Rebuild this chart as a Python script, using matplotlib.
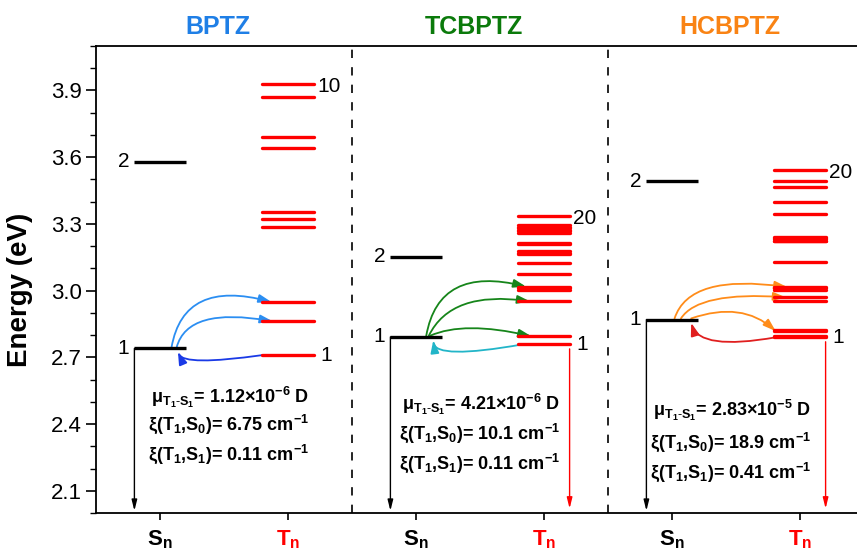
import matplotlib
matplotlib.use('Agg')
import matplotlib.pyplot as plt
import matplotlib.transforms as mtransforms
from matplotlib.patches import FancyArrowPatch
from matplotlib.ticker import MultipleLocator, FormatStrFormatter

plt.rcParams['font.family'] = 'Liberation Sans'
plt.rcParams['mathtext.fontset'] = 'custom'
plt.rcParams['mathtext.rm'] = 'Liberation Sans'
plt.rcParams['mathtext.bf'] = 'Liberation Sans:bold'
plt.rcParams['mathtext.it'] = 'Liberation Sans:italic'

molecules = ['BPTZ', 'TCBPTZ', 'HCBPTZ']
title_colors = ['#1f7fe6', '#0b7a0b', '#f98314']

# excited state energies (eV)
s_bptz = [2.740, 3.579]
t_bptz = [2.710, 2.862, 2.949, 3.286, 3.321, 3.353, 3.640, 3.689, 3.872, 3.927]
s_tcbptz = [2.792, 3.152]
t_tcbptz = [2.758, 2.795, 2.952, 3.003, 3.010, 3.018, 3.073, 3.126, 3.164, 3.170,
            3.176, 3.209, 3.212, 3.261, 3.267, 3.274, 3.280, 3.287, 3.293, 3.335]
s_hcbptz = [2.870, 3.492]
t_hcbptz = [2.790, 2.794, 2.818, 2.822, 2.952, 2.970, 3.004, 3.010, 3.016, 3.129,
            3.221, 3.225, 3.230, 3.235, 3.240, 3.346, 3.398, 3.465, 3.494, 3.542]

# transition dipole and SOC values
mu_val = ['1.12', '4.21', '2.83']
mu_exp = ['-6', '-6', '-5']
soc_s0 = ['6.75', '10.1', '18.9']
soc_s1 = ['0.11', '0.11', '0.41']
t1_decay = [False, True, True]

# ISC arrows: (target triplet index, x on S1, x at Tn, angleA, angleB)
fwd_arrows = [
    [(2, 0.59, 1.37, 80, -15), (1, 0.63, 1.38, 75, -10)],
    [(5, 0.58, 1.36, 80, -14), (2, 0.60, 1.39, 64, -8), (1, 0.61, 1.40, 24, -13)],
    [(8, 0.52, 1.40, 72, -8), (5, 0.57, 1.39, 57, -4), (2, 0.65, 1.31, 19, -42)],
]
fwd_colors = ['#2b8ef2', '#16851a', '#ff8c1a']
# RISC arrows: (x at T1, x on S1, angleA, angleB)
back_arrows = [(1.30, 0.64, 188, 113), (1.33, 0.635, 190, 97), (1.31, 0.65, 190, 107)]
back_colors = ['#1a3ae6', '#22b5c8', '#e01f1f']

s_sets = [s_bptz, s_tcbptz, s_hcbptz]
t_sets = [t_bptz, t_tcbptz, t_hcbptz]

fig = plt.figure(figsize=(8.57, 5.54), dpi=100)
ax = fig.add_axes([96/857, 41/554, 768/857, 467/554])
ax.set_xlim(0, 6)
ax.set_ylim(2.0, 4.1)

head = '-|>,head_length=0.75,head_width=0.25'
head_v = '-|>,head_length=0.8,head_width=0.2'
trans_title = mtransforms.blended_transform_factory(ax.transData, ax.transAxes)

for i in range(3):
    x0 = 2 * i
    s, t = s_sets[i], t_sets[i]

    # energy levels
    for e in s:
        ax.plot([x0 + 0.30, x0 + 0.70], [e, e], color='black', lw=2.4, solid_capstyle='butt')
    for e in t:
        ax.plot([x0 + 1.30, x0 + 1.70], [e, e], color='red', lw=2.4, solid_capstyle='round')

    ax.text(x0 + 0.26, s[0], '1', fontsize=15, ha='right', va='center')
    ax.text(x0 + 0.26, s[1], '2', fontsize=15, ha='right', va='center')
    ax.text(x0 + 1.75, t[0], '1', fontsize=15, ha='left', va='center')
    ax.text(x0 + 1.73, t[-1] - 0.01, str(len(t)), fontsize=15, ha='left', va='center')

    # ISC arrows S1 -> Tn
    for idx, xa, xb, aa, ab in fwd_arrows[i]:
        ax.add_patch(FancyArrowPatch((x0 + xa, s[0] + 0.005), (x0 + xb, t[idx]),
                                     connectionstyle=f'angle3,angleA={aa},angleB={ab}',
                                     arrowstyle=head, mutation_scale=10, lw=1.3,
                                     color=fwd_colors[i], shrinkA=0, shrinkB=0))
    # RISC arrow T1 -> S1
    xa, xb, aa, ab = back_arrows[i]
    ax.add_patch(FancyArrowPatch((x0 + xa, t[0]), (x0 + xb, s[0] - 0.015),
                                 connectionstyle=f'angle3,angleA={aa},angleB={ab}',
                                 arrowstyle=head, mutation_scale=10, lw=1.3,
                                 color=back_colors[i], shrinkA=0, shrinkB=0))

    # radiative decay
    ax.add_patch(FancyArrowPatch((x0 + 0.30, s[0]), (x0 + 0.30, 2.01),
                                 arrowstyle=head_v, mutation_scale=8, lw=1.0,
                                 color='black', shrinkA=0, shrinkB=0))
    if t1_decay[i]:
        ax.add_patch(FancyArrowPatch((x0 + 1.70, t[0] - 0.02), (x0 + 1.70, 2.02),
                                     arrowstyle=head_v, mutation_scale=8, lw=1.0,
                                     color='red', shrinkA=0, shrinkB=0))

    # annotations
    ty = [2.52 - 0.03 * i, 2.40 - 0.04 * i, 2.265 - 0.04 * i]
    tx = x0 + 0.43 - 0.04 * i
    ax.text(tx, ty[0],
            r'μ$_{\mathbf{T_1\text{-}S_1}}$= ' + mu_val[i] + r'×10$^{\mathbf{' + mu_exp[i] + r'}}$ D',
            fontsize=13, fontweight='bold', ha='left', va='center')
    ax.text(tx - 0.02, ty[1],
            r'ξ(T$_{\mathbf{1}}$,S$_{\mathbf{0}}$)= ' + soc_s0[i] + r' cm$^{\mathbf{-1}}$',
            fontsize=13, fontweight='bold', ha='left', va='center')
    ax.text(tx - 0.02, ty[2],
            r'ξ(T$_{\mathbf{1}}$,S$_{\mathbf{1}}$)= ' + soc_s1[i] + r' cm$^{\mathbf{-1}}$',
            fontsize=13, fontweight='bold', ha='left', va='center')

    ax.text(x0 + 0.95, 1.041, molecules[i], transform=trans_title, fontsize=18,
            fontweight='bold', color=title_colors[i], ha='center', va='center')

# panel separators
for xs in [2, 4]:
    ax.axvline(xs, color='black', lw=1.2, linestyle=(0, (5, 5.5)))

ax.set_xticks([0.5, 1.5, 2.5, 3.5, 4.5, 5.5])
ax.set_xticklabels([r'$\mathbf{S_n}$', r'$\mathbf{T_n}$'] * 3, fontsize=16)
for k, lab in enumerate(ax.get_xticklabels()):
    lab.set_color('black' if k % 2 == 0 else 'red')

ax.yaxis.set_major_locator(MultipleLocator(0.3))
ax.yaxis.set_minor_locator(MultipleLocator(0.1))
ax.yaxis.set_major_formatter(FormatStrFormatter('%.1f'))
ax.tick_params(axis='y', which='major', length=7, width=1.2, labelsize=16, pad=3)
ax.tick_params(axis='y', which='minor', length=4, width=1.0)
ax.tick_params(axis='x', length=5, width=1.2, pad=6)
for sp in ax.spines.values():
    sp.set_linewidth(1.3)

ax.set_ylabel('Energy (eV)', fontsize=20, fontweight='bold')
ax.yaxis.set_label_coords(-0.082, 0.478)

fig.savefig('out.png', dpi=100)
